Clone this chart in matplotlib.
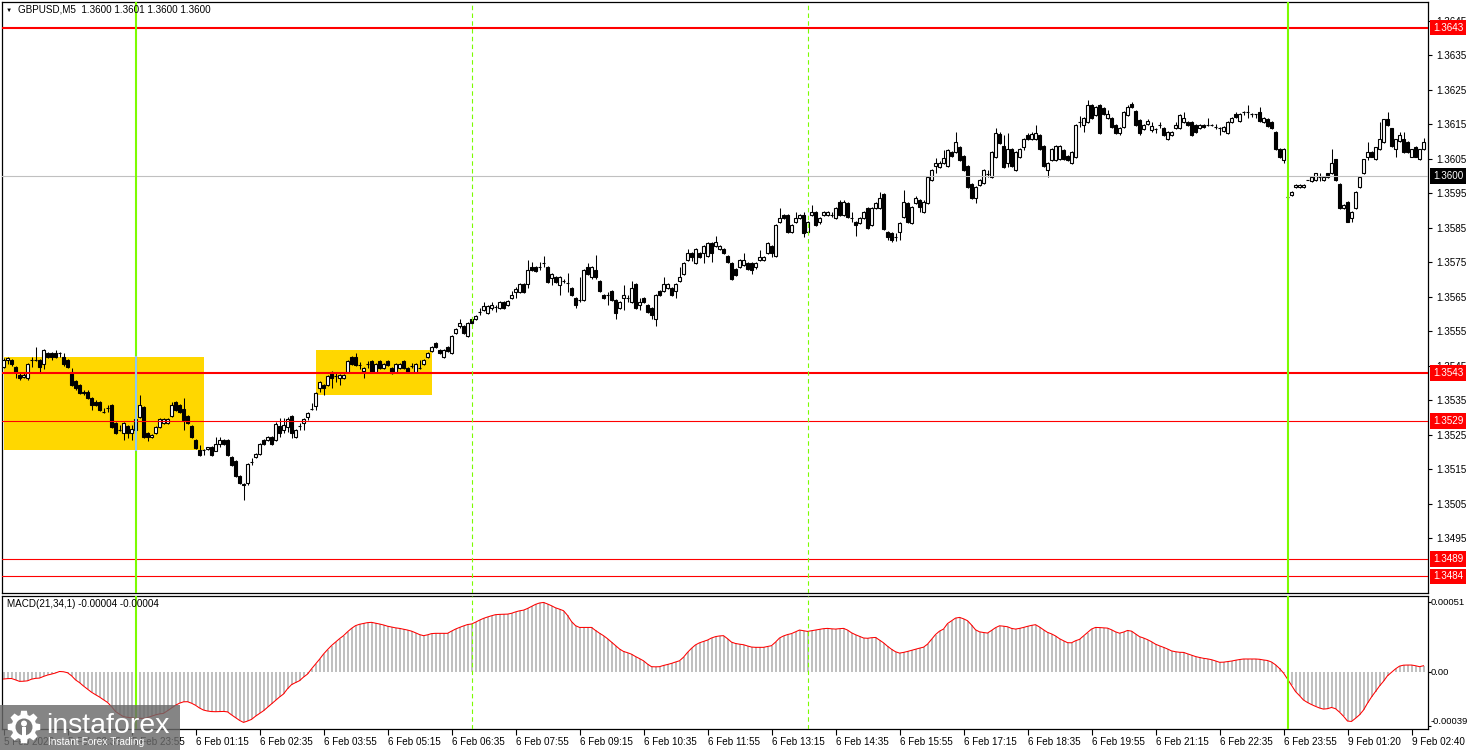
import numpy as np
import matplotlib
matplotlib.use("Agg")
import matplotlib.pyplot as plt
import matplotlib.transforms as mtransforms
from matplotlib.patches import Rectangle, Polygon, Circle

plt.rcParams['font.family'] = ['Liberation Sans', 'DejaVu Sans']

W, H = 1468, 750
BASE = 1.3500   # prices below are in pips above this level

# GBPUSD M5 candles, pips above 1.3500
opens = [
    44.8, 46.7, 46.7, 44.6, 42.4, 41.9, 41.4, 46.6, 46.6, 46.7,
    45.4, 48.6, 48.6, 48.6, 48.6, 47.5, 46.7, 43.3, 40.6, 39.5,
    37.5, 37.5, 35.6, 34.6, 34.6, 31.7, 32.7, 33.7, 28.4, 26.4,
    25.5, 27.6, 25.5, 26.4, 30.2, 33.2, 25.5, 24.3, 25.5, 27.4,
    28.4, 28.4, 30.5, 34.6, 33.7, 32.4, 30.5, 27.6, 23.5, 20.6,
    20.6, 21.0, 21.4, 20.4, 22.3, 23.5, 23.5, 18.7, 17.3, 13.1,
    10.8, 11.2, 17.2, 18.5, 19.5, 23.5, 23.5, 24.5, 23.5, 27.6,
    26.4, 27.4, 30.5, 24.3, 27.6, 28.4, 30.3, 32.4, 33.4, 38.5,
    39.5, 39.5, 43.3, 42.1, 41.4, 41.4, 43.3, 47.5, 47.5, 45.2,
    43.5, 45.4, 46.5, 43.3, 46.5, 44.5, 46.5, 44.5, 43.3, 44.5,
    46.5, 44.5, 45.0, 43.3, 44.5, 45.5, 47.5, 49.4, 51.5, 49.6,
    47.5, 50.4, 48.6, 54.4, 56.4, 56.5, 53.6, 58.5, 58.5, 60.7,
    61.2, 60.4, 61.7, 62.0, 61.7, 63.6, 62.6, 64.6, 66.5, 66.5,
    68.6, 68.6, 73.5, 73.5, 73.5, 74.7, 73.5, 70.5, 70.8, 68.4,
    69.6, 68.9, 67.5, 64.6, 64.1, 64.1, 73.7, 70.6, 72.8, 69.6,
    65.5, 65.5, 66.7, 64.1, 61.7, 64.6, 64.6, 63.6, 68.6, 62.6,
    64.6, 62.6, 61.7, 58.5, 66.7, 66.7, 67.5, 67.5, 66.7, 69.6,
    71.5, 75.7, 77.6, 74.7, 77.8, 77.6, 76.8, 80.7, 79.7, 78.8,
    78.8, 76.8, 74.7, 73.0, 73.7, 74.2, 74.7, 74.7, 73.5, 75.7,
    75.7, 77.8, 79.7, 76.8, 86.8, 88.7, 88.7, 83.9, 86.8, 87.7,
    88.7, 83.9, 88.7, 89.7, 86.8, 88.7, 88.7, 88.7, 87.7, 92.6,
    88.7, 92.1, 87.8, 86.8, 86.5, 87.8, 90.6, 85.8, 90.6, 90.6,
    94.8, 83.9, 83.4, 82.4, 83.9, 88.2, 92.1, 86.5, 92.1, 93.0,
    89.7, 92.1, 98.8, 102.9, 102.7, 103.9, 102.9, 107.0, 107.0, 108.5,
    105.8, 102.9, 97.7, 93.5, 97.4, 97.9, 100.7, 99.6, 105.6, 112.3,
    108.7, 103.7, 107.7, 101.7, 105.6, 108.5, 111.9, 110.6, 110.6, 111.9,
    108.7, 101.7, 104.6, 104.6, 105.0, 107.5, 105.8, 103.7, 105.6, 115.7,
    114.8, 115.7, 120.6, 117.7, 120.6, 119.6, 116.7, 116.7, 114.8, 112.5,
    114.3, 117.7, 120.9, 118.9, 116.2, 113.5, 115.0, 113.3, 113.5, 114.8,
    113.8, 110.6, 111.9, 113.8, 113.8, 115.7, 115.7, 115.7, 114.8, 113.8,
    114.8, 114.8, 114.8, 114.3, 113.8, 113.1, 112.5, 115.7, 118.0, 116.0,
    118.6, 118.6, 118.0, 117.9, 118.6, 115.7, 116.4, 115.7, 112.8, 107.7,
    104.6, 93.8, 94.4, 96.7, 96.7, 96.7, 98.8, 98.6, 98.8, 99.6,
    98.8, 100.8, 100.8, 104.8, 97.7, 90.6, 92.6, 87.7, 90.6, 96.7,
    100.8, 105.6, 107.0, 104.8, 107.7, 109.9, 116.4, 113.8, 107.7, 110.0,
    110.6, 109.9, 105.6, 108.5, 104.8, 107.7,
]
closes = [
    46.7, 47.3, 45.4, 43.3, 41.4, 42.4, 45.4, 46.7, 46.7, 44.6,
    49.6, 47.5, 47.5, 47.5, 48.6, 45.4, 44.6, 39.5, 38.7, 37.1,
    37.1, 35.6, 33.7, 33.7, 32.2, 31.7, 32.7, 27.4, 25.5, 26.4,
    28.4, 25.5, 26.6, 29.5, 33.7, 24.3, 24.3, 25.1, 27.4, 29.5,
    29.5, 29.5, 33.7, 32.2, 31.7, 29.3, 28.4, 24.3, 21.1, 19.2,
    20.6, 21.4, 19.2, 22.3, 23.5, 22.3, 19.2, 16.3, 13.1, 11.0,
    10.5, 16.6, 17.2, 19.5, 22.4, 22.4, 24.5, 22.4, 28.3, 25.5,
    27.9, 29.5, 25.5, 26.4, 27.6, 29.5, 31.4, 32.4, 37.2, 40.4,
    38.5, 42.1, 41.4, 42.1, 42.4, 42.4, 46.5, 45.5, 45.2, 45.2,
    44.5, 45.4, 43.3, 45.4, 44.3, 45.4, 45.2, 42.8, 45.4, 45.4,
    44.3, 43.3, 45.0, 45.4, 44.5, 46.7, 48.8, 50.4, 50.4, 48.6,
    49.6, 49.4, 53.6, 55.6, 57.5, 54.4, 57.5, 57.5, 59.5, 60.7,
    62.2, 62.4, 62.6, 62.0, 63.6, 61.7, 63.9, 65.5, 67.4, 68.6,
    66.5, 72.8, 72.8, 72.6, 73.5, 74.7, 69.4, 71.5, 69.4, 70.6,
    69.6, 68.9, 65.5, 62.6, 64.1, 72.8, 71.5, 73.5, 70.6, 66.7,
    64.6, 65.5, 64.1, 60.2, 63.6, 65.5, 64.6, 67.5, 61.7, 63.6,
    63.6, 60.7, 59.7, 65.5, 65.5, 68.6, 68.6, 65.5, 68.6, 70.6,
    74.7, 77.6, 76.4, 78.8, 76.4, 79.7, 80.7, 77.6, 81.0, 79.7,
    77.6, 75.2, 70.3, 71.3, 75.6, 75.6, 73.0, 72.8, 74.7, 76.6,
    76.6, 80.7, 77.6, 85.8, 87.8, 87.7, 83.9, 85.8, 87.7, 88.7,
    83.4, 86.8, 89.7, 85.8, 87.8, 89.7, 89.7, 88.7, 90.6, 88.7,
    92.6, 88.2, 87.8, 85.8, 87.8, 89.7, 84.8, 90.6, 92.1, 93.5,
    84.6, 82.4, 81.5, 82.4, 86.5, 92.6, 86.8, 90.9, 93.5, 90.9,
    92.6, 99.6, 101.7, 103.9, 103.9, 105.1, 107.5, 105.8, 109.9, 104.6,
    101.7, 96.7, 93.5, 96.9, 98.8, 101.7, 100.7, 107.0, 112.5, 109.5,
    102.7, 107.7, 102.9, 107.0, 107.7, 110.6, 110.6, 112.3, 112.5, 107.7,
    102.9, 103.7, 107.7, 108.7, 108.7, 104.8, 104.6, 107.0, 114.8, 115.7,
    116.7, 120.6, 116.7, 120.1, 112.5, 118.1, 118.0, 114.3, 112.5, 113.8,
    118.6, 119.9, 119.9, 114.8, 112.5, 114.8, 116.0, 114.5, 113.5, 114.8,
    111.9, 112.8, 112.8, 114.8, 117.7, 116.7, 114.8, 111.9, 112.8, 114.8,
    114.1, 114.8, 114.8, 114.3, 113.8, 114.1, 115.7, 116.7, 117.0, 118.0,
    118.6, 118.6, 118.0, 117.9, 116.0, 116.7, 114.5, 113.8, 107.7, 105.6,
    107.7, 93.8, 95.4, 97.4, 97.4, 97.4, 98.8, 99.6, 100.8, 99.6,
    99.6, 99.6, 103.7, 98.8, 90.6, 91.6, 86.8, 89.6, 95.4, 99.6,
    104.8, 107.0, 105.6, 108.3, 110.6, 116.4, 114.8, 108.7, 110.6, 111.9,
    107.0, 107.0, 107.7, 105.6, 107.7, 109.9,
]
highs = [
    47.2, 47.6, 47.0, 44.9, 43.3, 43.3, 45.7, 47.7, 50.6, 47.0,
    49.9, 49.0, 48.9, 49.6, 48.9, 48.6, 47.0, 44.3, 40.9, 39.8,
    37.9, 37.9, 36.0, 35.0, 34.9, 32.7, 33.7, 34.0, 28.7, 27.9,
    28.7, 27.9, 27.9, 29.8, 36.6, 33.5, 25.8, 25.4, 27.7, 29.8,
    29.8, 29.8, 34.6, 34.9, 34.0, 35.6, 30.8, 27.9, 23.8, 22.2,
    20.9, 21.6, 21.7, 24.3, 24.3, 23.8, 23.8, 19.0, 17.6, 13.4,
    11.0, 16.9, 18.2, 19.8, 22.7, 23.8, 24.8, 24.8, 28.6, 29.8,
    29.8, 30.3, 30.8, 26.7, 28.4, 29.8, 31.7, 34.1, 37.5, 40.7,
    39.8, 42.4, 43.6, 43.3, 42.7, 42.7, 46.8, 47.8, 48.6, 46.1,
    44.8, 46.3, 46.8, 45.7, 46.8, 45.7, 46.8, 44.8, 45.7, 45.7,
    46.8, 44.8, 45.7, 45.7, 46.7, 47.0, 49.1, 50.7, 51.8, 49.9,
    49.9, 50.7, 53.9, 55.9, 58.5, 56.8, 57.8, 58.8, 59.8, 61.7,
    63.6, 62.7, 63.6, 62.7, 63.9, 63.9, 64.2, 66.8, 67.7, 68.9,
    68.9, 75.7, 75.2, 73.8, 75.2, 76.8, 73.8, 71.8, 71.1, 70.9,
    70.2, 71.8, 67.8, 64.9, 70.8, 73.1, 74.7, 73.8, 77.1, 69.9,
    65.8, 66.5, 67.0, 64.4, 63.9, 68.4, 65.5, 69.7, 68.9, 64.6,
    64.9, 62.9, 62.0, 65.8, 67.0, 70.8, 68.9, 67.8, 68.9, 73.7,
    75.0, 78.8, 77.9, 79.1, 78.1, 80.0, 81.0, 81.0, 82.6, 80.0,
    79.1, 77.1, 75.0, 73.3, 75.9, 77.6, 75.0, 75.0, 75.0, 78.6,
    76.9, 81.0, 80.0, 86.1, 90.6, 89.0, 89.0, 86.1, 89.7, 89.0,
    89.6, 87.1, 91.6, 90.0, 88.1, 90.0, 90.0, 89.5, 90.9, 92.9,
    92.9, 92.4, 89.7, 87.1, 88.1, 90.0, 90.9, 91.0, 92.4, 95.4,
    95.1, 84.2, 83.7, 83.4, 86.8, 95.8, 92.4, 91.2, 94.3, 93.3,
    92.9, 99.9, 102.0, 105.1, 104.2, 107.5, 107.8, 107.3, 112.8, 108.8,
    106.1, 103.2, 98.0, 97.2, 99.1, 102.0, 101.7, 107.3, 113.8, 112.6,
    112.0, 112.5, 108.0, 107.3, 108.0, 110.9, 112.5, 112.6, 114.8, 112.2,
    109.0, 104.0, 108.0, 109.0, 109.0, 107.8, 106.1, 107.3, 115.1, 117.4,
    117.0, 122.0, 120.9, 120.4, 120.9, 119.9, 119.1, 117.0, 115.1, 114.1,
    118.9, 120.6, 121.5, 119.2, 116.5, 115.1, 116.4, 115.7, 114.0, 115.7,
    114.1, 113.1, 113.1, 115.7, 118.0, 118.6, 116.0, 116.0, 115.1, 115.1,
    115.1, 116.7, 115.0, 115.0, 114.2, 114.4, 116.0, 117.0, 118.6, 118.3,
    118.8, 120.6, 118.2, 118.1, 120.0, 117.0, 116.7, 116.0, 113.1, 108.0,
    108.0, 93.9, 95.6, 97.6, 97.6, 97.6, 98.9, 99.8, 101.0, 100.8,
    99.8, 101.0, 107.7, 105.0, 97.9, 91.8, 92.8, 89.8, 95.6, 99.8,
    105.0, 109.9, 107.2, 108.5, 115.7, 116.6, 118.6, 114.0, 110.8, 112.8,
    112.8, 110.1, 107.9, 108.7, 107.9, 110.9,
]
lows = [
    44.3, 45.4, 45.0, 41.4, 41.0, 41.4, 41.0, 44.6, 46.4, 42.8,
    44.2, 47.2, 46.7, 47.2, 47.5, 45.1, 44.3, 39.2, 38.0, 36.8,
    36.6, 35.3, 32.2, 33.4, 31.9, 31.2, 31.7, 27.1, 25.2, 26.1,
    23.5, 24.0, 23.5, 26.1, 29.9, 24.0, 23.3, 24.0, 25.2, 27.1,
    28.1, 28.1, 30.2, 31.9, 31.4, 26.4, 28.1, 24.0, 20.8, 18.9,
    19.2, 20.6, 18.9, 20.4, 21.6, 22.0, 18.9, 16.0, 12.8, 10.7,
    6.1, 10.5, 16.2, 18.2, 19.2, 22.1, 23.2, 22.1, 23.2, 24.5,
    25.5, 25.9, 24.0, 24.0, 26.4, 26.4, 29.3, 32.1, 32.2, 37.5,
    36.6, 39.2, 38.5, 40.4, 39.5, 41.1, 43.0, 45.2, 44.9, 44.2,
    41.4, 44.4, 43.0, 43.0, 44.0, 44.2, 44.9, 42.5, 43.0, 44.2,
    44.0, 43.0, 44.3, 43.0, 44.2, 45.2, 47.2, 49.1, 50.1, 48.3,
    47.2, 49.1, 48.3, 54.1, 56.1, 54.1, 53.3, 57.2, 58.2, 59.7,
    60.9, 60.1, 61.2, 60.7, 61.4, 61.4, 62.3, 64.3, 64.6, 66.2,
    66.2, 67.5, 72.5, 72.3, 72.8, 73.7, 69.1, 68.4, 69.1, 65.5,
    69.0, 66.5, 65.2, 61.7, 63.6, 63.8, 71.2, 70.3, 70.3, 66.4,
    64.3, 62.6, 63.8, 58.5, 61.4, 61.2, 63.6, 63.3, 61.4, 61.2,
    63.3, 60.4, 58.5, 56.4, 65.2, 66.4, 67.2, 65.2, 64.6, 69.3,
    71.2, 75.4, 75.5, 74.4, 76.1, 74.7, 76.5, 75.2, 79.4, 78.5,
    77.3, 74.9, 70.0, 71.0, 73.4, 73.9, 72.7, 71.7, 73.2, 75.4,
    75.4, 77.5, 76.6, 76.5, 86.5, 87.4, 83.6, 83.6, 86.5, 87.4,
    82.4, 83.6, 88.4, 85.5, 86.2, 88.4, 88.4, 88.2, 87.4, 88.4,
    88.4, 87.9, 86.8, 82.6, 86.2, 87.5, 84.5, 85.5, 90.3, 90.3,
    84.3, 81.5, 80.8, 81.2, 81.5, 87.9, 86.5, 86.2, 91.8, 89.7,
    89.4, 91.8, 98.5, 100.8, 102.4, 103.6, 102.6, 105.5, 106.7, 104.3,
    101.4, 96.4, 93.2, 92.1, 97.1, 97.6, 99.7, 99.3, 105.3, 109.2,
    102.4, 102.7, 102.6, 101.4, 105.3, 107.5, 110.3, 110.3, 110.3, 107.4,
    102.6, 99.6, 104.3, 104.3, 104.7, 104.5, 104.3, 103.4, 105.3, 114.3,
    112.8, 115.4, 116.4, 117.4, 112.2, 117.8, 116.4, 114.0, 112.2, 111.9,
    114.0, 117.4, 119.6, 114.5, 111.9, 113.2, 114.7, 112.6, 112.5, 113.8,
    111.6, 110.3, 111.6, 113.5, 113.5, 115.4, 114.5, 111.6, 112.5, 113.5,
    113.8, 114.5, 114.6, 113.6, 111.9, 112.8, 112.2, 115.4, 116.7, 115.7,
    117.7, 116.7, 117.0, 116.9, 115.7, 115.4, 114.2, 113.5, 107.4, 105.3,
    103.7, 92.9, 94.2, 96.5, 96.5, 96.5, 98.7, 98.4, 98.6, 98.6,
    98.6, 99.4, 100.6, 98.6, 90.4, 90.4, 86.6, 86.8, 90.4, 96.5,
    100.6, 104.6, 105.4, 104.6, 107.5, 109.7, 114.6, 108.5, 105.6, 109.8,
    106.8, 106.8, 105.4, 105.4, 104.6, 107.5,
]

# MACD(21,34,1) main line, units of 0.00001
macd = [
    -4.9, -4.6, -4.5, -5.5, -6.6, -6.5, -6.2, -5.0, -4.4, -4.2,
    -3.0, -2.0, -1.3, -0.5, 0.6, 0.4, -0.3, -2.5, -5.5, -7.5,
    -10.0, -12.2, -14.5, -16.3, -18.0, -20.0, -21.9, -25.0, -28.5, -30.5,
    -32.3, -32.8, -33.2, -33.4, -33.5, -33.6, -33.0, -32.0, -31.0, -30.3,
    -29.9, -28.0, -26.0, -24.0, -22.5, -21.5, -21.4, -22.5, -24.0, -26.0,
    -27.5, -28.2, -28.6, -28.7, -28.6, -28.5, -28.8, -31.0, -33.0, -35.0,
    -36.5, -35.5, -34.3, -32.0, -30.0, -28.0, -25.5, -23.0, -20.5, -18.0,
    -15.8, -12.0, -9.0, -7.5, -6.1, -3.5, -1.3, 2.5, 6.0, 9.5,
    13.3, 16.5, 19.5, 22.0, 24.5, 26.7, 29.5, 32.0, 34.0, 35.0,
    35.6, 36.2, 36.4, 35.8, 35.2, 34.5, 33.6, 33.0, 32.4, 32.0,
    31.4, 30.8, 30.0, 28.8, 27.5, 26.7, 27.3, 28.2, 28.4, 28.4,
    28.4, 28.4, 30.0, 31.5, 32.7, 33.8, 34.8, 35.2, 36.5, 38.0,
    39.3, 40.3, 41.2, 42.0, 42.2, 42.3, 42.4, 43.0, 44.0, 44.8,
    45.3, 46.5, 48.0, 49.5, 50.5, 50.9, 49.8, 48.5, 47.0, 46.0,
    44.9, 41.5, 37.0, 34.0, 32.7, 32.7, 32.7, 32.7, 30.5, 28.5,
    26.7, 24.5, 22.0, 19.5, 17.0, 15.2, 14.3, 13.2, 11.5, 10.0,
    8.4, 6.0, 4.1, 4.0, 4.1, 5.0, 5.7, 6.5, 7.5, 8.4,
    11.0, 14.5, 17.5, 20.0, 21.5, 22.5, 23.5, 25.0, 26.0, 26.5,
    26.7, 24.5, 22.0, 21.0, 20.5, 20.1, 19.2, 18.4, 18.2, 18.2,
    18.2, 18.8, 19.4, 22.0, 25.0, 26.5, 27.5, 28.2, 29.5, 30.8,
    30.3, 29.8, 30.3, 30.8, 31.3, 31.8, 32.0, 31.7, 31.5, 31.8,
    32.0, 30.8, 28.8, 27.4, 26.2, 25.0, 24.8, 25.2, 25.4, 23.5,
    21.5, 19.0, 16.8, 15.0, 14.0, 14.5, 15.2, 16.0, 16.8, 17.6,
    18.3, 20.5, 24.0, 27.5, 30.0, 31.5, 35.5, 37.5, 39.5, 40.0,
    39.0, 37.6, 34.5, 31.0, 29.5, 29.0, 28.6, 30.5, 32.5, 33.9,
    33.6, 33.2, 32.0, 31.5, 32.0, 32.7, 33.5, 34.2, 34.7, 33.0,
    31.0, 29.1, 28.0, 26.5, 24.5, 23.0, 21.6, 21.5, 23.0, 24.0,
    26.5, 29.0, 31.5, 32.7, 32.6, 32.4, 32.2, 31.0, 29.5, 28.5,
    29.3, 30.5, 30.0, 28.0, 26.0, 25.0, 23.8, 22.3, 20.5, 19.3,
    18.2, 17.0, 15.6, 15.0, 14.6, 14.5, 13.5, 12.5, 11.5, 10.8,
    10.2, 9.8, 9.2, 8.3, 7.3, 7.4, 7.8, 8.2, 8.8, 9.3,
    9.7, 9.7, 9.7, 9.7, 9.5, 9.0, 8.6, 7.5, 5.5, 2.8,
    -0.5, -4.9, -9.5, -14.0, -17.0, -20.2, -22.0, -23.5, -24.8, -26.0,
    -26.8, -26.5, -25.6, -26.5, -29.0, -32.0, -35.5, -35.8, -33.5, -31.0,
    -27.5, -22.5, -18.0, -14.0, -10.0, -6.5, -2.5, 0.0, 2.5, 4.5,
    5.2, 5.3, 5.3, 4.8, 4.1, 4.8,
]

time_labels = ['5 Feb 2026', '5 Feb 22:35', '5 Feb 23:55', '6 Feb 01:15', '6 Feb 02:35',
               '6 Feb 03:55', '6 Feb 05:15', '6 Feb 06:35', '6 Feb 07:55', '6 Feb 09:15',
               '6 Feb 10:35', '6 Feb 11:55', '6 Feb 13:15', '6 Feb 14:35', '6 Feb 15:55',
               '6 Feb 17:15', '6 Feb 18:35', '6 Feb 19:55', '6 Feb 21:15', '6 Feb 22:35',
               '6 Feb 23:55', '9 Feb 01:20', '9 Feb 02:40']

thick_levels = [1.3643, 1.3543]
thin_levels = [1.3529, 1.3489, 1.3484]
bid = 1.3600
zones = [(0, 50, 1.35476, 1.35207), (78, 107, 1.35496, 1.35366)]   # bar from, bar to, top, bottom
day_bars = [33, 321]
session_bars = [117, 201]
macd_marks = [0.00051, 0.0, -0.00039]

# ---------------------------------------------------------------
o = BASE + np.array(opens) / 1e4
c = BASE + np.array(closes) / 1e4
hi = BASE + np.array(highs) / 1e4
lo = BASE + np.array(lows) / 1e4
m = np.array(macd) * 1e-5
x = np.arange(len(c))


def px_box(left, top, right, bottom):
    return [left / W, 1 - bottom / H, (right - left) / W, (bottom - top) / H]


fig = plt.figure(figsize=(W / 100, H / 100), dpi=100)
fig.patch.set_facecolor('white')
ax = fig.add_axes(px_box(2, 2, 1428, 593))
axm = fig.add_axes(px_box(2, 596, 1428, 729))

xl = ((2 - 3.5) / 4, (1428 - 3.5) / 4)
fs = 7.1

# price panel
for b0, b1, top, bot in zones:
    ax.add_patch(Rectangle((b0, bot), b1 - b0, top - bot, fc='#FFD700', ec='none', zorder=1))

up = c >= o
ax.vlines(x, lo, hi, color='black', lw=0.75, zorder=3)
ax.bar(x, np.abs(c - o), width=0.6, bottom=np.minimum(o, c),
       color=np.where(up, 'white', 'black'), edgecolor='black', linewidth=0.8, zorder=4)

ax.axhline(bid, color='#C0C0C0', lw=0.8, zorder=5)
for lv in thick_levels:
    ax.axhline(lv, color='red', lw=1.5, zorder=6)
for lv in thin_levels:
    ax.axhline(lv, color='red', lw=0.8, zorder=6)

for a in (ax, axm):
    for b in day_bars:
        a.axvline(b, color='#7CFC00', lw=1.5, zorder=7)
    for b in session_bars:
        a.axvline(b, color='#7CFC00', lw=0.8, dashes=(4, 3), zorder=7)
# green line through the first zone shows up light blue in the terminal
ax.plot([day_bars[0], day_bars[0]], [zones[0][3], zones[0][2]], color='#8DC8F0', lw=1.5, zorder=7)

ax.set_xlim(*xl)
ax.set_ylim(1.34792, 1.36504)
ax.set_xticks([])
ax.yaxis.tick_right()
pticks = np.round(np.arange(1.3495, 1.3646, 0.0010), 4)
ax.set_yticks(pticks)
ax.set_yticklabels([f'{t:.4f}' for t in pticks])
ax.tick_params(axis='y', direction='out', length=3, width=0.8, pad=3, labelsize=fs)

tr = mtransforms.blended_transform_factory(ax.transAxes, ax.transData) + \
    mtransforms.ScaledTranslation(5 / 100, 0, fig.dpi_scale_trans)
for lv in thick_levels + thin_levels:
    ax.text(1.0, lv, f'{lv:.4f}', transform=tr, ha='left', va='center', color='white', fontsize=fs,
            bbox=dict(boxstyle='square,pad=0.28', fc='red', ec='none'), clip_on=False, zorder=10)
ax.text(1.0, bid, f'{bid:.4f}', transform=tr, ha='left', va='center', color='white', fontsize=fs,
        bbox=dict(boxstyle='square,pad=0.28', fc='black', ec='none'), clip_on=False, zorder=10)

# MACD panel
axm.bar(x, m, width=0.5, color='#C0C0C0', zorder=2)
axm.plot(x, m, color='red', lw=0.75, zorder=3)
axm.set_xlim(*xl)
axm.set_ylim(-41.3e-5, 55.6e-5)
axm.yaxis.tick_right()
axm.set_yticks(macd_marks)
axm.set_yticklabels([])
axm.tick_params(axis='y', direction='out', length=2, width=0.8)
trm = mtransforms.blended_transform_factory(axm.transAxes, axm.transData) + \
    mtransforms.ScaledTranslation(3 / 100, 0, fig.dpi_scale_trans)
for v, dy in zip(macd_marks, (0, 0, 4)):
    lab = f'{v:.5f}' if v != 0 else '0.00'
    axm.text(1.0, v, lab, transform=trm + mtransforms.ScaledTranslation(0, dy / 100, fig.dpi_scale_trans),
             ha='left', va='center', fontsize=6.8, clip_on=False)
axm.set_xticks(x[::16])
axm.set_xticklabels(time_labels, ha='left')
axm.tick_params(axis='x', direction='out', length=4, width=0.8, pad=2, labelsize=fs)

for a in (ax, axm):
    for s in a.spines.values():
        s.set_linewidth(0.9)
        s.set_color('black')

fig.text(6 / W, 1 - 10 / H, '\u25BC', fontsize=4.5, va='center', ha='left')
fig.text(18 / W, 1 - 10 / H, 'GBPUSD,M5  1.3600 1.3601 1.3600 1.3600', fontsize=fs, va='center', ha='left')
fig.text(7 / W, 1 - 604 / H, 'MACD(21,34,1) -0.00004 -0.00004', fontsize=fs, va='center', ha='left')

# watermark logo, bottom left
ov = fig.add_axes([0, 0, 1, 1])
ov.set_xlim(0, W)
ov.set_ylim(H, 0)
ov.axis('off')
ov.set_zorder(20)
ov.patch.set_alpha(0)
ov.add_patch(Rectangle((0, 705), 180, 45, fc='#6a6a6a', ec='none', alpha=0.82))
cx0, cy0 = 24, 727
ang = np.deg2rad(np.arange(0, 360, 45))
pts = []
for a0 in ang:
    for da, r in ((-17, 12.5), (-10, 16.5), (10, 16.5), (17, 12.5)):
        t = a0 + np.deg2rad(da)
        pts.append((cx0 + r * np.cos(t), cy0 + r * np.sin(t)))
ov.add_patch(Polygon(pts, closed=True, fc='white', ec='none'))
ov.add_patch(Circle((cx0, cy0), 8.5, fc='#7a7a7a', ec='none'))
ov.add_patch(Circle((cx0, cy0 - 3.5), 3, fc='white', ec='none'))
ov.add_patch(Rectangle((cx0 - 2.2, cy0), 4.4, 9, fc='white', ec='none'))
ov.text(46, 733, 'instaforex', color='white', fontsize=20.5, va='baseline', ha='left')
ov.text(48, 745, 'Instant Forex Trading', color='white', fontsize=7.3, va='baseline', ha='left')

fig.savefig('out.png', dpi=100, facecolor='white')
